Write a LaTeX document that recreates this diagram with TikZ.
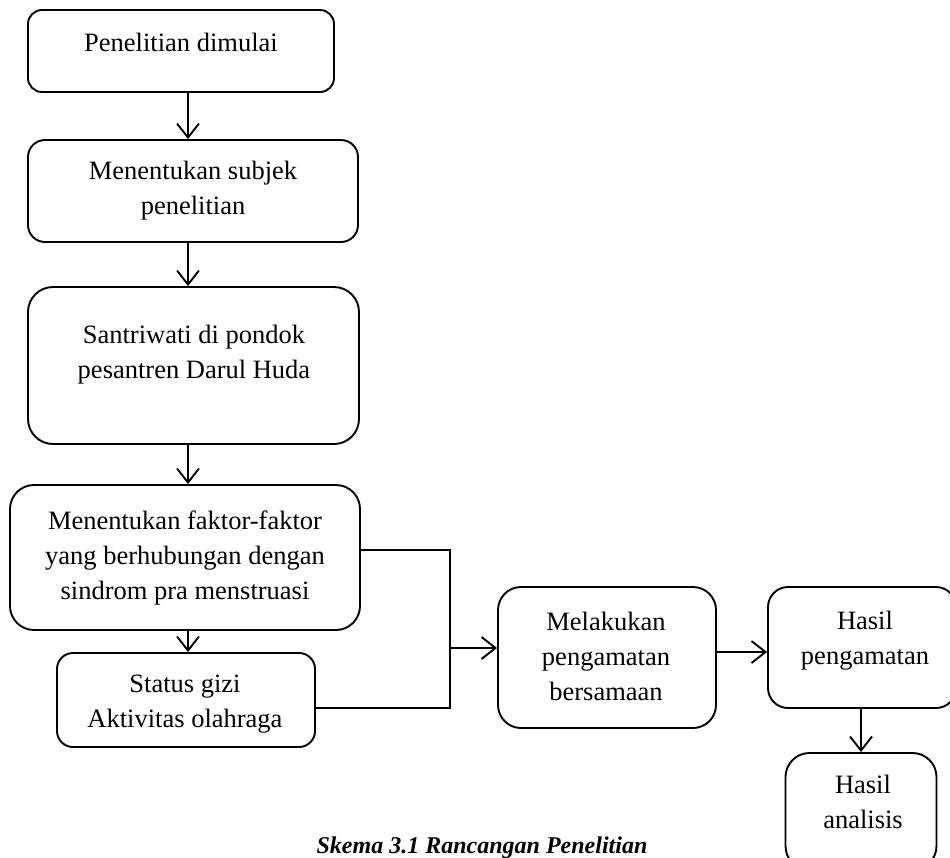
\documentclass[tikz,border=0pt]{standalone}
\usepackage{fontspec}
\setmainfont{Liberation Serif}
\usetikzlibrary{arrows.meta}
\tikzset{
    box/.style={rectangle, draw, line width=1.9pt, inner sep=0pt},
    txt/.style={align=center, inner sep=0pt, font=\fontsize{26.5}{35}\selectfont},
    arr/.style={line width=1.9pt, -{Straight Barb[length=14pt, width=22pt, line width=1.9pt]}},
    link/.style={line width=1.9pt}
}

\begin{document}
\begin{tikzpicture}[x=1pt, y=-1pt]
  \useasboundingbox (0,0) rectangle (950,857);

  \node (start) [box, minimum width=306pt, minimum height=82pt, rounded corners=14pt] at (181, 51) {};
  \node (subjek) [box, minimum width=330pt, minimum height=102pt, rounded corners=17pt] at (193, 191) {};
  \node (santri) [box, minimum width=331pt, minimum height=157pt, rounded corners=25pt] at (193.5, 365.5) {};
  \node (faktor) [box, minimum width=350pt, minimum height=145pt, rounded corners=24pt] at (185, 557.5) {};
  \node (status) [box, minimum width=258pt, minimum height=94pt, rounded corners=16pt] at (186, 700) {};
  \node (amati) [box, minimum width=218pt, minimum height=141pt, rounded corners=23pt] at (607, 657.5) {};
  \node (hasil) [box, minimum width=188pt, minimum height=121pt, rounded corners=20pt] at (862, 647.5) {};
  \node (analisis) [box, minimum width=151pt, minimum height=117pt, rounded corners=24pt] at (861, 811.5) {};

  \node (start-t) [txt] at (181, 42) {Penelitian dimulai};
  \node (subjek-t) [txt] at (193, 191) {Menentukan subjek\\penelitian};
  \node (santri-t) [txt] at (194, 355) {Santriwati di pondok\\pesantren Darul Huda};
  \node (faktor-t) [txt] at (185, 558) {Menentukan faktor-faktor\\yang berhubungan dengan\\sindrom pra menstruasi};
  \node (status-t) [txt] at (185, 704) {Status gizi\\Aktivitas olahraga};
  \node (amati-t) [txt] at (606, 656) {Melakukan\\pengamatan\\bersamaan};
  \node (hasil-t) [txt] at (865, 641) {Hasil\\pengamatan};
  \node (analisis-t) [txt] at (863, 802) {Hasil\\analisis};

  \node (caption) [anchor=base, inner sep=0pt, font=\fontsize{24}{28}\selectfont\bfseries\itshape] at (482, 853) {Skema 3.1 Rancangan Penelitian};

  \coordinate (axis) at (188, 0);
  \coordinate (join) at (450, 648);

  \draw[arr] (start.south -| axis) -- (subjek.north -| axis);
  \draw[arr] (subjek.south -| axis) -- (santri.north -| axis);
  \draw[arr] (santri.south -| axis) -- (faktor.north -| axis);
  \draw[arr] (faktor.south -| axis) -- (status.north -| axis);

  \draw[link] ([yshift=7.5pt]faktor.east) -| (join) |- ([yshift=-8pt]status.east);
  \draw[arr] (join) -- (join -| amati.west);
  \draw[arr] ([yshift=5.5pt]amati.east) -- ([yshift=5.5pt]amati.east -| hasil.west);
  \draw[arr] (hasil.south -| analisis.north) -- (analisis.north);
\end{tikzpicture}
\end{document}
